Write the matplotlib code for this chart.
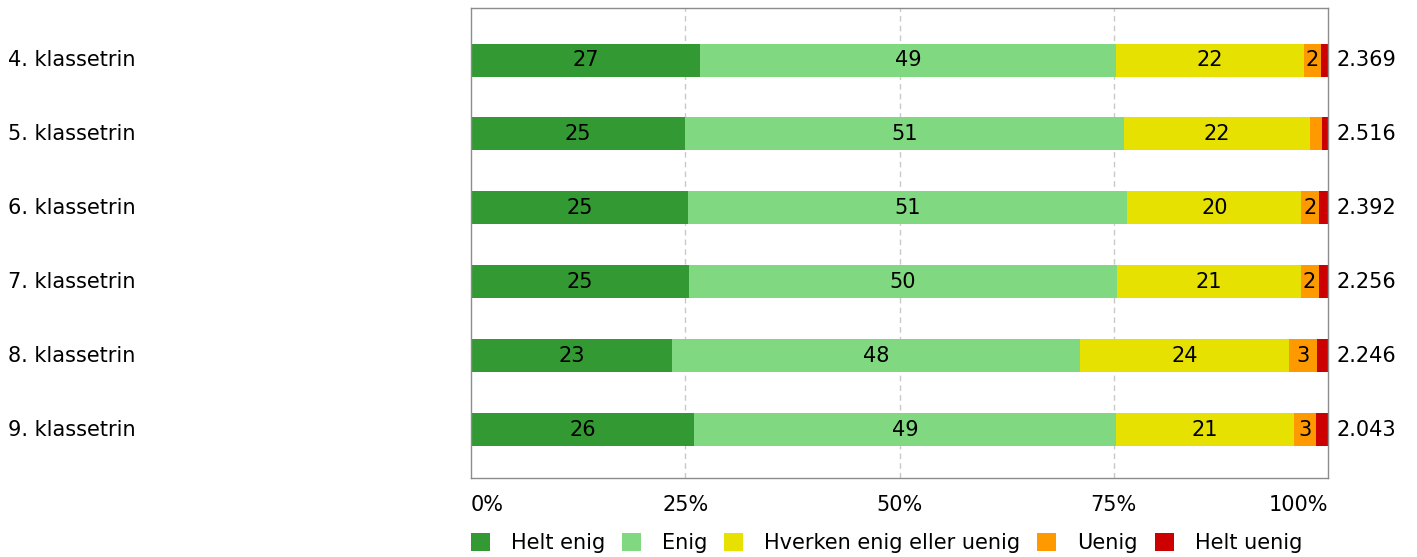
import matplotlib
matplotlib.use("Agg")
import matplotlib.pyplot as plt
from matplotlib.patches import Patch
import matplotlib.transforms as mtransforms
import numpy as np

categories = ["4. klassetrin", "5. klassetrin", "6. klassetrin",
              "7. klassetrin", "8. klassetrin", "9. klassetrin"]
series_names = ["Helt enig", "Enig", "Hverken enig eller uenig", "Uenig", "Helt uenig"]
helt_enig = [26.7, 25.0, 25.3, 25.4, 23.4, 26.0]
enig = [48.6, 51.2, 51.3, 50.0, 47.7, 49.3]
hverken = [21.9, 21.7, 20.3, 21.4, 24.3, 20.7]
uenig = [2.0, 1.4, 2.1, 2.1, 3.3, 2.6]
helt_uenig = [0.8, 0.7, 1.0, 1.1, 1.3, 1.4]
means = ["2.369", "2.516", "2.392", "2.256", "2.246", "2.043"]
tick_vals = [0, 25, 50, 75, 100]
tick_labels = ["0%", "25%", "50%", "75%", "100%"]

colors = ["#339933", "#80d880", "#e6e100", "#ff9900", "#cc0000"]
series = [helt_enig, enig, hverken, uenig, helt_uenig]

W, H = 1417, 557
fig = plt.figure(figsize=(W / 100, H / 100), dpi=100)
ax = fig.add_axes([471 / W, (H - 478) / H, 857 / W, 470 / H])

fs = 15
y = np.arange(len(categories))
left = np.zeros(len(categories))
for si, (vals, col) in enumerate(zip(series, colors)):
    vals = np.array(vals)
    ax.barh(y, vals, left=left, height=0.446, color=col, edgecolor="none", zorder=2)
    if si < 4:
        for yi, (l, v) in enumerate(zip(left, vals)):
            if round(v) >= 2:
                ax.text(l + v / 2, yi, f"{round(v):d}", ha="center", va="center",
                        fontsize=fs, color="black", zorder=3)
    left = left + vals

ax.set_xlim(0, 100)
ax.set_ylim(5.65, -0.703)
ax.set_yticks([])
ax.set_xticks(tick_vals)
ax.set_xticklabels([])
ax.tick_params(axis="x", length=0)
for v in tick_vals[1:-1]:
    ax.axvline(v, color="#c8c8c8", linestyle=(0, (4, 3)), linewidth=1, zorder=1)
for s in ax.spines.values():
    s.set_color("#8c8c8c")
    s.set_linewidth(1)

# x tick labels
for v, lab in zip(tick_vals, tick_labels):
    ha = "left" if v == 0 else ("right" if v == 100 else "center")
    ax.text(v, -0.058, lab, transform=ax.get_xaxis_transform(), ha=ha, va="center",
            fontsize=fs, color="black")

blend = mtransforms.blended_transform_factory(fig.transFigure, ax.transData)
for yi, (c, m) in enumerate(zip(categories, means)):
    ax.text(8 / W, yi, c, transform=blend, ha="left", va="center", fontsize=fs, color="black")
    ax.text(1337 / W, yi, m, transform=blend, ha="left", va="center", fontsize=fs, color="black")

handles = [Patch(facecolor=c, edgecolor="none", label=n) for c, n in zip(colors, series_names)]
leg = fig.legend(handles=handles, loc="center left", bbox_to_anchor=(471 / W, (H - 543) / H),
                 ncol=5, frameon=False, fontsize=fs, handlelength=0.91, handleheight=0.91,
                 handletextpad=1.0, columnspacing=0.82, borderpad=0, borderaxespad=0)

fig.savefig("out.png", dpi=100)
